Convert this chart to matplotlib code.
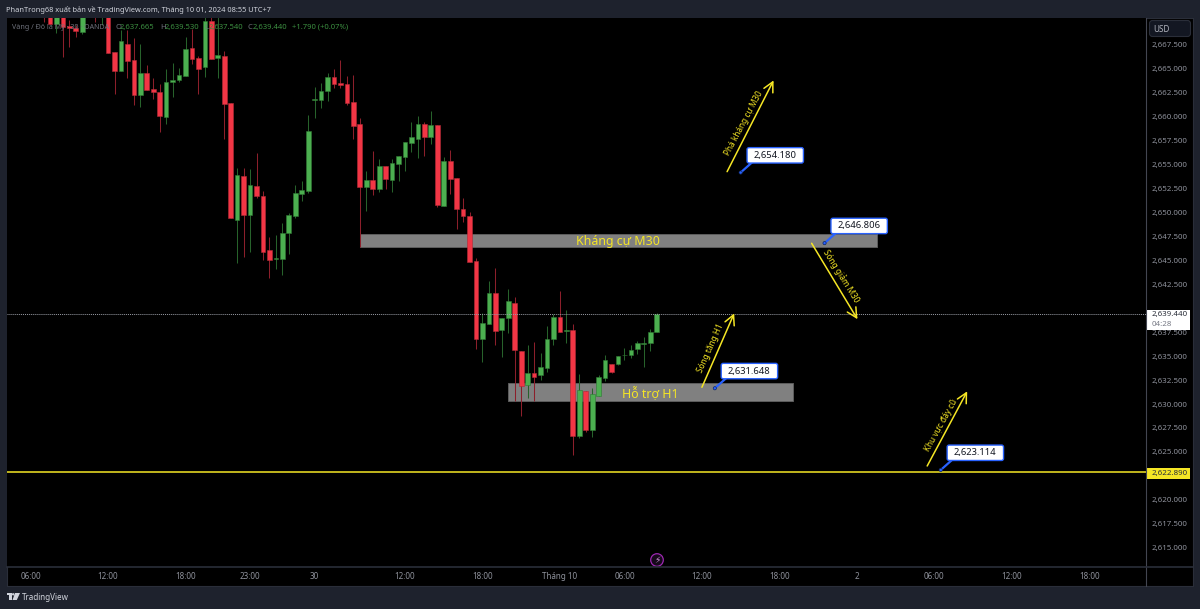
import matplotlib
matplotlib.use('Agg')
import matplotlib.pyplot as plt
from matplotlib.patches import Rectangle, FancyBboxPatch, Circle, Polygon

plt.rcParams['font.family'] = ['Noto Sans', 'DejaVu Sans']

# 30 minute candles, first one sits at bar -1
opens = [2671.6, 2671.0, 2669.69, 2670.9, 2669.52, 2669.28, 2668.89, 2671.5, 2671.5, 2670.8, 2671.4,
         2666.73, 2664.82, 2667.6, 2665.97, 2662.24, 2664.58, 2662.91, 2662.59, 2660.02, 2663.6,
         2663.81, 2664.3, 2667.19, 2666.11, 2665.24, 2670.04, 2666.18, 2666.32, 2661.44, 2649.26,
         2653.82, 2649.75, 2652.78, 2651.77, 2646.09, 2645.2, 2645.19, 2647.9, 2649.64, 2651.94,
         2652.25, 2661.8, 2661.76, 2662.66, 2664.19, 2663.57, 2663.39, 2661.55, 2659.22, 2652.67,
         2653.4, 2652.46, 2654.9, 2653.43, 2655.1, 2655.8, 2657.3, 2657.72, 2659.28, 2657.89,
         2659.14, 2650.68, 2655.38, 2653.61, 2650.34, 2649.64, 2644.94, 2636.76, 2638.4, 2641.6,
         2637.7, 2638.96, 2640.56, 2635.58, 2632.03, 2633.25, 2633.0, 2633.8, 2636.8, 2639.09,
         2637.68, 2637.74, 2626.7, 2631.33, 2627.26, 2630.88, 2632.72, 2634.22, 2634.15, 2635.1,
         2635.13, 2635.72, 2636.3, 2636.34, 2637.54]
highs = [2672.0, 2671.6, 2671.2, 2671.1, 2670.11, 2669.6, 2671.5, 2672.5, 2672.0, 2672.0, 2671.8,
         2666.73, 2669.07, 2669.07, 2668.27, 2667.6, 2665.38, 2664.02, 2663.43, 2664.96, 2665.59,
         2665.06, 2668.3, 2669.14, 2666.35, 2670.8, 2670.8, 2670.8, 2666.87, 2661.44, 2654.62,
         2654.62, 2654.52, 2656.26, 2652.29, 2647.45, 2647.66, 2648.91, 2649.99, 2652.85, 2653.33,
         2660.16, 2663.15, 2663.5, 2664.58, 2664.99, 2665.97, 2664.26, 2664.37, 2659.84, 2654.37,
         2656.43, 2655.59, 2654.9, 2655.56, 2655.87, 2657.33, 2659.42, 2660.08, 2659.49, 2660.61,
         2659.14, 2655.77, 2656.53, 2653.61, 2651.55, 2650.06, 2645.22, 2639.55, 2642.85, 2644.21,
         2638.99, 2642.05, 2641.18, 2635.58, 2636.14, 2636.48, 2635.3, 2638.12, 2639.41, 2641.81,
         2639.83, 2638.33, 2633.11, 2631.33, 2631.71, 2633.07, 2635.09, 2634.22, 2634.99, 2635.86,
         2636.17, 2636.55, 2637.04, 2637.88, 2639.53]
lows = [2669.94, 2669.69, 2668.72, 2666.21, 2667.26, 2668.37, 2668.65, 2670.6, 2669.94, 2669.6, 2666.7,
        2662.38, 2664.82, 2664.02, 2661.2, 2660.99, 2662.8, 2661.83, 2658.45, 2659.25, 2662.04,
        2663.6, 2664.26, 2665.52, 2662.38, 2664.19, 2666.07, 2664.05, 2657.68, 2649.4, 2644.7,
        2645.33, 2645.92, 2651.52, 2645.05, 2643.13, 2644.07, 2643.45, 2645.64, 2649.4, 2651.17,
        2652.01, 2659.88, 2660.96, 2661.69, 2662.98, 2662.98, 2661.23, 2657.72, 2646.44, 2650.2,
        2651.87, 2652.18, 2652.46, 2652.15, 2653.3, 2654.37, 2656.32, 2655.73, 2655.94, 2657.16,
        2650.62, 2650.68, 2651.94, 2648.28, 2648.98, 2644.87, 2635.75, 2634.43, 2638.4, 2636.17,
        2634.92, 2637.46, 2630.36, 2628.76, 2630.67, 2630.32, 2632.52, 2633.35, 2636.17, 2637.56,
        2636.42, 2624.68, 2626.46, 2627.08, 2626.53, 2630.88, 2632.45, 2633.25, 2634.05, 2634.6,
        2634.78, 2635.23, 2633.91, 2635.58, 2637.54]
closes = [2670.8, 2669.69, 2670.9, 2669.42, 2669.3, 2668.96, 2671.0, 2672.0, 2671.0, 2671.5, 2666.7,
          2664.82, 2667.88, 2665.8, 2662.24, 2664.61, 2662.84, 2662.59, 2660.12, 2663.67, 2663.85,
          2664.33, 2667.12, 2666.04, 2664.99, 2670.04, 2666.07, 2666.42, 2661.37, 2649.4, 2653.89,
          2649.75, 2652.88, 2651.73, 2645.92, 2645.08, 2645.25, 2647.87, 2649.78, 2652.04, 2652.36,
          2658.48, 2661.86, 2662.7, 2664.19, 2663.46, 2663.32, 2661.48, 2659.04, 2652.71, 2653.4,
          2652.49, 2654.9, 2653.5, 2655.18, 2655.87, 2657.33, 2657.86, 2659.28, 2657.89, 2659.14,
          2650.82, 2655.38, 2653.5, 2650.37, 2649.61, 2644.87, 2636.83, 2638.43, 2641.6, 2637.63,
          2638.99, 2640.77, 2635.61, 2631.85, 2633.25, 2632.83, 2633.87, 2636.8, 2639.13, 2637.56,
          2637.72, 2626.7, 2631.47, 2627.33, 2631.02, 2632.86, 2634.6, 2633.39, 2634.99, 2635.16,
          2635.65, 2636.34, 2636.38, 2637.56, 2639.44]

time_bars = [-3, 9, 21, 31, 41, 55, 67, 79, 89, 101, 113, 125, 137, 149, 161]
time_labels = ['06:00', '12:00', '18:00', '23:00', '30', '12:00', '18:00', 'Tháng 10',
               '06:00', '12:00', '18:00', '2', '06:00', '12:00', '18:00']
# 2,622.500 and 2,640.000 are hidden behind the price labels in the picture
price_ticks = [2615, 2617.5, 2620, 2625, 2627.5, 2630, 2632.5, 2635, 2637.5, 2642.5, 2645,
               2647.5, 2650, 2652.5, 2655, 2657.5, 2660, 2662.5, 2665, 2667.5]

last_price = 2639.44
yellow_level = 2622.89

# Drawings on the chart
zone_names = ['Kháng cự M30', 'Hỗ trợ H1']
zone_starts = [48.0, 71.0]
zone_ends = [128.1, 115.1]
zone_tops = [2647.76, 2632.2]
zone_bottoms = [2646.37, 2630.3]
zone_label_bars = [88.0, 93.0]

arrow_names = ['Phá kháng cự M30', 'Sóng giảm M30', 'Sóng tăng H1', 'Khu vực đáy cũ']
arrow_from = [(104.9, 2654.27), (118.0, 2646.79), (101.0, 2631.75), (135.9, 2623.53)]
arrow_to = [(112.1, 2663.8), (125.1, 2638.86), (106.0, 2639.47), (142.1, 2631.33)]
arrow_label_at = [(107.5, 2659.35), (122.5, 2643.4), (102.4, 2635.85), (138.1, 2627.81)]
arrow_label_rot = [62, -58, 66, 61]

note_bars = [107.0, 120.0, 103.0, 138.0]
note_prices = [2654.18, 2646.806, 2631.648, 2623.114]

BG = '#1e222d'
GRID = '#2a2e39'
RED = '#f23645'
GREEN = '#4caf50'
YELLOW = '#f5e625'
TICK = '#8f929c'

fig = plt.figure(figsize=(12, 6.09), dpi=100, facecolor=BG)


def box(l, t, r, b):
    # pixel box of the picture to figure fractions
    return [l / 1200, 1 - b / 609, (r - l) / 1200, (b - t) / 609]


# Black panel behind the price and time scales
back = fig.add_axes(box(7, 18, 1193, 586), zorder=0, facecolor='black')
back.set_xticks([])
back.set_yticks([])
for s in back.spines.values():
    s.set_color(GRID)
    s.set_linewidth(0.8)

ax = fig.add_axes(box(7, 18, 1146, 567), zorder=1, facecolor='black')
ax.set_xlim(-6.66, 169.8)
ax.set_ylim(2612.98, 2670.32)
for s in ax.spines.values():
    s.set_visible(False)

ax.yaxis.tick_right()
ax.set_yticks(price_ticks)
ax.set_yticklabels(['{:,.3f}'.format(p) for p in price_ticks])
ax.set_xticks(time_bars)
ax.set_xticklabels(time_labels)
ax.tick_params(axis='y', length=0, pad=4.3, labelsize=5.7, labelcolor=TICK)
ax.tick_params(axis='x', length=0, pad=3.8, labelsize=5.8, labelcolor=TICK)

# Zones
for i in range(len(zone_names)):
    ax.add_patch(Rectangle((zone_starts[i], zone_bottoms[i]), zone_ends[i] - zone_starts[i],
                           zone_tops[i] - zone_bottoms[i], facecolor='#808080',
                           edgecolor='#5c5c5c', linewidth=0.7, zorder=1))

# Candles
for i in range(len(opens)):
    bar = i - 1
    up = closes[i] >= opens[i]
    ax.vlines(bar, lows[i], highs[i], color='#27622b' if up else '#8c1f2b', linewidth=0.75, zorder=2)
    height = max(abs(closes[i] - opens[i]), 0.06)
    ax.bar(bar, height, bottom=min(opens[i], closes[i]), width=0.72,
           color=GREEN if up else RED, edgecolor='#2f7a33' if up else '#b32a36',
           linewidth=0.4, zorder=3)

ax.axhline(last_price, color='#9a9da6', linewidth=0.7, linestyle=(0, (1, 1)), zorder=4)
ax.axhline(yellow_level, color=YELLOW, linewidth=1.1, zorder=4)

for i in range(len(zone_names)):
    ax.text(zone_label_bars[i], (zone_tops[i] + zone_bottoms[i]) / 2 - 0.05, zone_names[i],
            color=YELLOW, fontsize=8.9, ha='center', va='center', zorder=5)

for i in range(len(arrow_names)):
    ax.annotate('', xy=arrow_to[i], xytext=arrow_from[i], zorder=5,
                arrowprops=dict(arrowstyle='->,head_length=0.7,head_width=0.36', color=YELLOW,
                                lw=1.1, shrinkA=0, shrinkB=0))
    ax.text(arrow_label_at[i][0], arrow_label_at[i][1], arrow_names[i], color=YELLOW, fontsize=5.9,
            rotation=arrow_label_rot[i], rotation_mode='anchor', ha='center', va='center', zorder=5)

# Overlay in picture pixels, for the chrome around the chart
top = fig.add_axes([0, 0, 1, 1], zorder=2, facecolor='none')
top.set_xlim(0, 1200)
top.set_ylim(609, 0)
top.axis('off')


def to_px(bar, price):
    return top.transData.inverted().transform(ax.transData.transform((bar, price)))


# Price note callouts
for i in range(len(note_bars)):
    px, py = to_px(note_bars[i], note_prices[i])
    cx, cy = px + 34.6, py - 17.2
    top.plot([px, cx - 22], [py, cy + 6], color='#2962ff', linewidth=1.6, zorder=3)
    top.add_patch(FancyBboxPatch((cx - 27, cy - 6.5), 54, 13, boxstyle='round,pad=1.2,rounding_size=2',
                                 facecolor='white', edgecolor='#2962ff', linewidth=1, zorder=4))
    top.add_patch(Circle((px, py), 1.6, facecolor='#2962ff', edgecolor='#10265c', linewidth=0.5, zorder=4))
    top.text(cx, cy, '{:,.3f}'.format(note_prices[i]), color='#131722', fontsize=6.8,
             ha='center', va='center', zorder=5)

# Price scale furniture
top.plot([1146, 1146], [18, 586], color='#434651', linewidth=0.8)
top.plot([7, 1193], [567, 567], color=GRID, linewidth=1.2)
top.add_patch(FancyBboxPatch((1150, 21), 40, 15, boxstyle='round,pad=0.5,rounding_size=3',
                             facecolor='#131722', edgecolor=GRID, linewidth=0.8))
top.text(1161, 29, 'USD', color='#b2b5be', fontsize=5.8, ha='center', va='center')

top.add_patch(Rectangle((1147, 309.5), 43, 20, facecolor='white', edgecolor='none'))
top.text(1152, 314.5, '{:,.3f}'.format(last_price), color='#2a2e39', fontsize=5.7, ha='left', va='center')
top.text(1152, 324, '04:28', color='#787b86', fontsize=5.7, ha='left', va='center')
top.add_patch(Rectangle((1147, 467.5), 43, 11, facecolor=YELLOW, edgecolor='none'))
top.text(1152, 473, '{:,.3f}'.format(yellow_level), color='#2a2e39', fontsize=5.7, ha='left', va='center')

# Header and symbol legend
top.text(6, 10, 'PhanTrong68 xuất bản về TradingView.com, Tháng 10 01, 2024 08:55 UTC+7',
         color='#d1d4dc', fontsize=5.35, ha='left', va='center')
LEG_GRAY = '#6f727c'
LEG_GREEN = '#3c8f41'
top.text(12, 27.5, 'Vàng / Đô la Mỹ · 30 · OANDA', color=LEG_GRAY, fontsize=5.1, ha='left', va='center')
for x, s, c in [(115, 'O', LEG_GRAY), (120, '2,637.665', LEG_GREEN), (160, 'H', LEG_GRAY),
                (165, '2,639.530', LEG_GREEN), (204, 'L', LEG_GRAY), (209, '2,637.540', LEG_GREEN),
                (248, 'C', LEG_GRAY), (253, '2,639.440', LEG_GREEN), (292, '+1.790 (+0.07%)', LEG_GREEN)]:
    top.text(x, 27.5, s, color=c, fontsize=5.5, ha='left', va='center')

# Lightning marker near the bottom
top.add_patch(Circle((657, 560), 6.3, facecolor='#16091a', edgecolor='#9c27b0', linewidth=0.9))
top.text(657, 560, '\u26a1', color='#ce93d8', fontsize=6.5, ha='center', va='center', family='DejaVu Sans')

# TradingView logo
top.add_patch(Rectangle((7, 593), 4.6, 2.2, facecolor='#d1d4dc', edgecolor='none'))
top.add_patch(Rectangle((9, 593), 2.6, 7, facecolor='#d1d4dc', edgecolor='none'))
top.add_patch(Circle((13.2, 594.3), 1.2, facecolor='#d1d4dc', edgecolor='none'))
top.add_patch(Polygon([(15, 593), (20, 593), (16.8, 600), (12.5, 600)], facecolor='#d1d4dc', edgecolor='none'))
top.text(22, 597, 'TradingView', color='#d1d4dc', fontsize=5.8, ha='left', va='center')

fig.savefig('out.png', dpi=100, facecolor=BG)
